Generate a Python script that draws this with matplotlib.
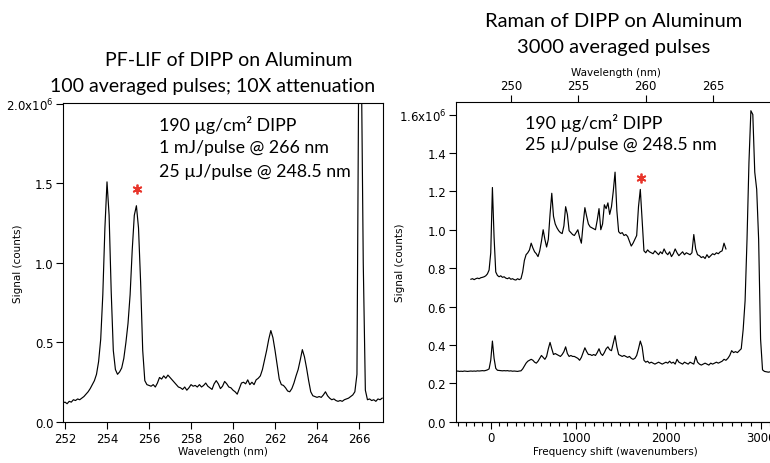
import numpy as np
import matplotlib
matplotlib.use("Agg")
import matplotlib.pyplot as plt
from matplotlib.ticker import FixedLocator

# ---------------- DATA ----------------
# Left panel: PF-LIF spectrum, wavelength grid start/step (nm), signal in 1e6 counts
lif_start_nm = 251.9
lif_step_nm = 0.1
lif_signal = [
    0.120, 0.125, 0.115, 0.130, 0.125, 0.140, 0.135, 0.145, 0.140, 0.150,   # 251.9-252.8
    0.160, 0.175, 0.190, 0.210, 0.235, 0.260, 0.300, 0.380, 0.520, 0.800,   # 252.9-253.8
    1.220, 1.510, 1.300, 0.820, 0.450, 0.330, 0.300, 0.315, 0.340, 0.400,   # 253.9-254.8
    0.500, 0.620, 0.800, 1.080, 1.300, 1.360, 1.220, 0.880, 0.450, 0.260,   # 254.9-255.8
    0.235, 0.230, 0.225, 0.235, 0.220, 0.245, 0.280, 0.270, 0.290, 0.275,   # 255.9-256.8
    0.295, 0.280, 0.265, 0.250, 0.235, 0.220, 0.215, 0.205, 0.220, 0.200,   # 256.9-257.8
    0.215, 0.235, 0.225, 0.230, 0.220, 0.235, 0.220, 0.230, 0.245, 0.225,   # 257.9-258.8
    0.215, 0.205, 0.240, 0.260, 0.240, 0.210, 0.225, 0.255, 0.240, 0.220,   # 258.9-259.8
    0.215, 0.200, 0.190, 0.175, 0.210, 0.245, 0.250, 0.240, 0.265, 0.235,   # 259.9-260.8
    0.250, 0.235, 0.265, 0.275, 0.290, 0.330, 0.390, 0.450, 0.520, 0.575,   # 260.9-261.8
    0.530, 0.450, 0.360, 0.270, 0.235, 0.230, 0.215, 0.195, 0.190, 0.210,   # 261.9-262.8
    0.245, 0.290, 0.330, 0.390, 0.455, 0.410, 0.340, 0.260, 0.190, 0.165,   # 262.9-263.8
    0.160, 0.155, 0.160, 0.155, 0.170, 0.190, 0.165, 0.150, 0.140, 0.145,   # 263.9-264.8
    0.135, 0.130, 0.135, 0.130, 0.140, 0.145, 0.150, 0.160, 0.170, 0.190,   # 264.9-265.8
    0.300, 2.600, 2.400, 1.000, 0.200, 0.140, 0.145, 0.135, 0.140, 0.130,   # 265.9-266.8
    0.145, 0.140, 0.150,                                                    # 266.9-267.1
]

# Right panel: Raman spectra on a Raman-shift grid (cm^-1), signal in 1e6 counts
laser_nm = 248.5
raman_step = 20
raman_top_start = -240
raman_top = [
    0.742, 0.745, 0.740, 0.745, 0.748, 0.745, 0.750, 0.752, 0.755, 0.760,   # -240..-60
    0.770, 0.790, 0.880, 1.220, 0.960, 0.780, 0.762, 0.755, 0.760, 0.752,   # -40..140
    0.755, 0.748, 0.745, 0.750, 0.742, 0.745, 0.740, 0.738, 0.745, 0.740,   # 160..340
    0.745, 0.780, 0.840, 0.870, 0.880, 0.895, 0.930, 0.905, 0.885, 0.875,   # 360..540
    0.860, 0.890, 0.940, 1.000, 0.950, 0.910, 0.950, 1.080, 1.190, 1.070,   # 560..740
    1.030, 1.010, 0.995, 0.985, 0.980, 1.020, 1.120, 1.080, 0.995, 0.985,   # 760..940
    0.975, 0.970, 0.985, 1.000, 0.960, 0.930, 1.030, 1.115, 1.070, 1.030,   # 960..1140
    1.015, 1.010, 1.005, 1.000, 1.050, 1.110, 1.000, 1.030, 1.130, 1.110,   # 1160..1340
    1.140, 1.080, 1.120, 1.200, 1.300, 1.100, 0.990, 0.980, 0.985, 0.970,   # 1360..1540
    0.975, 0.965, 0.940, 0.915, 0.930, 0.950, 0.970, 1.120, 1.210, 1.050,   # 1560..1740
    0.890, 0.880, 0.895, 0.885, 0.880, 0.875, 0.890, 0.880, 0.870, 0.885,   # 1760..1940
    0.875, 0.900, 0.880, 0.870, 0.885, 0.860, 0.875, 0.900, 0.880, 0.865,   # 1960..2140
    0.875, 0.885, 0.870, 0.880, 0.875, 0.870, 0.880, 0.975, 0.900, 0.870,   # 2160..2340
    0.865, 0.855, 0.860, 0.850, 0.870, 0.855, 0.865, 0.875, 0.870, 0.880,   # 2360..2540
    0.875, 0.885, 0.890, 0.930, 0.900,                                      # 2560..2640
]
raman_bottom_start = -420
raman_bottom = [
    0.262, 0.264, 0.262, 0.263, 0.262, 0.264, 0.263, 0.262, 0.263, 0.264,   # -420..-240
    0.263, 0.264, 0.263, 0.265, 0.264, 0.265, 0.266, 0.265, 0.267, 0.270,   # -220..-40
    0.275, 0.320, 0.420, 0.330, 0.278, 0.268, 0.267, 0.266, 0.265, 0.266,   # -20..160
    0.265, 0.266, 0.264, 0.265, 0.263, 0.264, 0.263, 0.262, 0.264, 0.265,   # 180..360
    0.275, 0.290, 0.305, 0.315, 0.320, 0.325, 0.320, 0.310, 0.305, 0.315,   # 380..560
    0.330, 0.345, 0.335, 0.325, 0.340, 0.380, 0.413, 0.380, 0.350, 0.355,   # 580..760
    0.350, 0.345, 0.340, 0.350, 0.365, 0.390, 0.355, 0.340, 0.345, 0.340,   # 780..960
    0.340, 0.335, 0.330, 0.320, 0.335, 0.360, 0.385, 0.365, 0.350, 0.350,   # 980..1160
    0.345, 0.350, 0.345, 0.360, 0.380, 0.355, 0.345, 0.360, 0.380, 0.390,   # 1180..1360
    0.375, 0.370, 0.410, 0.448, 0.390, 0.350, 0.345, 0.340, 0.345, 0.340,   # 1380..1560
    0.335, 0.340, 0.330, 0.325, 0.330, 0.345, 0.380, 0.420, 0.390, 0.320,   # 1580..1760
    0.310, 0.315, 0.305, 0.310, 0.305, 0.300, 0.305, 0.310, 0.305, 0.300,   # 1780..1960
    0.305, 0.310, 0.305, 0.315, 0.305, 0.310, 0.300, 0.325, 0.310, 0.305,   # 1980..2160
    0.300, 0.310, 0.305, 0.300, 0.310, 0.305, 0.300, 0.340, 0.310, 0.300,   # 2180..2360
    0.295, 0.300, 0.305, 0.300, 0.295, 0.305, 0.300, 0.305, 0.310, 0.305,   # 2380..2560
    0.310, 0.315, 0.325, 0.320, 0.330, 0.345, 0.370, 0.360, 0.365, 0.360,   # 2580..2760
    0.370, 0.380, 0.480, 0.630, 0.950, 1.350, 1.620, 1.600, 1.300, 1.210,   # 2780..2960
    0.950, 0.430, 0.270, 0.262, 0.260, 0.258, 0.260, 0.259, 0.260,          # 2980..3140
]

lif_xticks = [252, 254, 256, 258, 260, 262, 264, 266]
lif_yticks = [0.0, 0.5, 1.0, 1.5, 2.0]
lif_yticklabels = ["0.0", "0.5", "1.0", "1.5", "2.0x10$^{6}$"]
raman_wl_ticks = [250, 255, 260, 265]
raman_shift_ticks = [0, 1000, 2000, 3000]
raman_yticks = [0.0, 0.2, 0.4, 0.6, 0.8, 1.0, 1.2, 1.4, 1.6]
raman_yticklabels = ["0.0", "0.2", "0.4", "0.6", "0.8", "1.0", "1.2", "1.4", "1.6x10$^{6}$"]

# peak markers (wavelength nm, signal 1e6 counts)
lif_star = (255.43, 1.468)
raman_star = (259.62, 1.27)

# ---------------- PLOT ----------------
W, H = 770, 464
fig = plt.figure(figsize=(W / 100, H / 100), dpi=100)
plt.rcParams["font.family"] = ["DejaVu Sans"]
TXT_FONT = ["Lato", "DejaVu Sans"]
TICK_FS = 8.5
LAB_FS = 7.5
LW = 0.85
STAR_RED = "#e8352b"


def px_axes(l, t, r, b):
    return [l / W, 1 - b / H, (r - l) / W, (b - t) / H]


def ftext(x, y, s, **kw):
    fig.text(x / W, 1 - y / H, s, **kw)


def shift_to_nm(s):
    s = np.asarray(s, dtype=float)
    return 1e7 / (1e7 / laser_nm - s)


def nm_to_shift(lam):
    lam = np.asarray(lam, dtype=float)
    return 1e7 / laser_nm - 1e7 / lam


# ---- left panel ----
axL = fig.add_axes(px_axes(63, 104, 383, 423))
lif_y = np.array(lif_signal) * 1e6
lif_x = lif_start_nm + lif_step_nm * np.arange(len(lif_y))
axL.plot(lif_x, lif_y, color="black", lw=LW)
axL.set_xlim(251.905, 267.14)
axL.set_ylim(0, 2.006e6)
axL.set_xticks(lif_xticks)
axL.set_yticks(np.array(lif_yticks) * 1e6)
axL.set_yticklabels(lif_yticklabels)
axL.tick_params(direction="out", length=5, width=0.8, labelsize=TICK_FS, pad=2)
for sp in axL.spines.values():
    sp.set_linewidth(0.8)
axL.set_xlabel("Wavelength (nm)", fontsize=LAB_FS, labelpad=1)
axL.set_ylabel("Signal (counts)", fontsize=LAB_FS)
axL.yaxis.set_label_coords(-0.125, 0.5)
axL.plot([lif_star[0]], [lif_star[1] * 1e6], linestyle="none", marker=(6, 2, 0),
         markersize=7, markeredgewidth=1.3, color=STAR_RED)

# ---- right panel ----
axR = fig.add_axes(px_axes(455.7, 102.7, 775.7, 422.7))
top_y = np.array(raman_top) * 1e6
top_s = raman_top_start + raman_step * np.arange(len(top_y))
bot_y = np.array(raman_bottom) * 1e6
bot_s = raman_bottom_start + raman_step * np.arange(len(bot_y))
axR.plot(shift_to_nm(top_s), top_y, color="black", lw=LW)
axR.plot(shift_to_nm(bot_s), bot_y, color="black", lw=LW)
axR.set_xlim(245.9, 269.64)
axR.set_ylim(0, 1.667e6)
axR.xaxis.tick_top()
axR.xaxis.set_label_position("top")
axR.set_xticks(raman_wl_ticks)
axR.set_yticks(np.array(raman_yticks) * 1e6)
axR.set_yticklabels(raman_yticklabels)
axR.tick_params(direction="out", length=5, width=0.8, labelsize=TICK_FS, pad=2)
for sp in axR.spines.values():
    sp.set_linewidth(0.8)
axR.spines["right"].set_visible(False)
axR.set_xlabel("Wavelength (nm)", fontsize=LAB_FS, labelpad=3)
axR.set_ylabel("Signal (counts)", fontsize=LAB_FS)
axR.yaxis.set_label_coords(-0.158, 0.5)
axR.plot([raman_star[0]], [raman_star[1] * 1e6], linestyle="none", marker=(6, 2, 0),
         markersize=7, markeredgewidth=1.3, color=STAR_RED)

sec = axR.secondary_xaxis("bottom", functions=(nm_to_shift, shift_to_nm))
sec.set_xticks(raman_shift_ticks)
sec.xaxis.set_minor_locator(FixedLocator(np.arange(-400, 3200, 100)))
sec.tick_params(which="major", direction="out", length=5, width=0.8, labelsize=TICK_FS, pad=2)
sec.tick_params(which="minor", direction="out", length=3, width=0.8)
sec.spines["bottom"].set_linewidth(0.8)
sec.set_xlabel("Frequency shift (wavenumbers)", fontsize=LAB_FS, labelpad=1)

# ---- titles ----
ftext(229, 60, "PF-LIF of DIPP on Aluminum", ha="center", va="center", fontsize=14, family=TXT_FONT)
ftext(213, 86.7, "100 averaged pulses; 10X attenuation", ha="center", va="center", fontsize=14, family=TXT_FONT)
ftext(614, 21.5, "Raman of DIPP on Aluminum", ha="center", va="center", fontsize=14.5, family=TXT_FONT)
ftext(614, 47.5, "3000 averaged pulses", ha="center", va="center", fontsize=14.5, family=TXT_FONT)

# ---- annotations ----
ANN_FS = 12.8
ftext(159, 125, "190 µg/cm² DIPP", ha="left", va="center", fontsize=ANN_FS, family=TXT_FONT)
ftext(159, 148.3, "1 mJ/pulse @ 266 nm", ha="left", va="center", fontsize=ANN_FS, family=TXT_FONT)
ftext(159, 171.7, "25 µJ/pulse @ 248.5 nm", ha="left", va="center", fontsize=ANN_FS, family=TXT_FONT)
ftext(525, 122.7, "190 µg/cm² DIPP", ha="left", va="center", fontsize=ANN_FS, family=TXT_FONT)
ftext(525, 145, "25 µJ/pulse @ 248.5 nm", ha="left", va="center", fontsize=ANN_FS, family=TXT_FONT)

fig.savefig("out.png", dpi=100)
